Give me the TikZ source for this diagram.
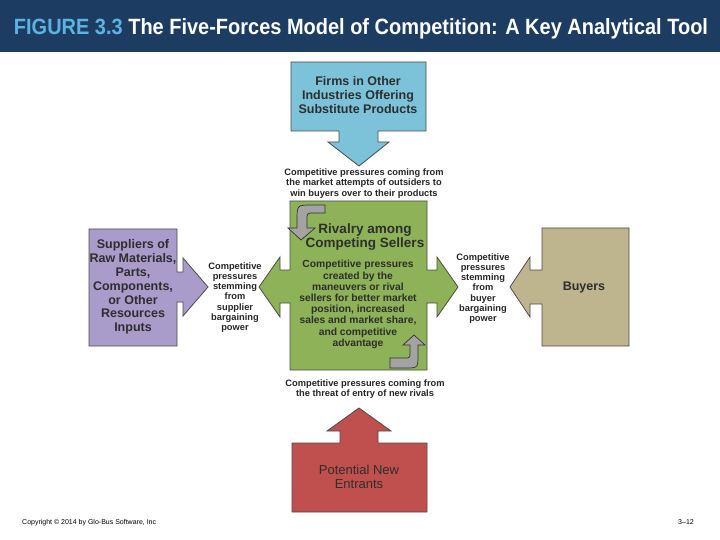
\documentclass[tikz,border=0pt]{standalone}
\usepackage{fontspec}
\setmainfont{Liberation Sans}
\usepackage{graphicx}
\definecolor{navy}{HTML}{1D3C62}
\definecolor{ttlblue}{HTML}{5CB3E2}
\definecolor{subblue}{HTML}{7CC3DA}
\definecolor{rivgreen}{HTML}{8DB257}
\definecolor{suppurple}{HTML}{A99BCA}
\definecolor{buytan}{HTML}{BEB48E}
\definecolor{entred}{HTML}{C0504D}
\definecolor{curvegray}{HTML}{A3A3A3}
\definecolor{txtgray}{HTML}{2E2E2E}
\begin{document}
\begin{tikzpicture}[x=1pt,y=-1pt,
  forceshape/.style={draw=black!70,line width=0.8pt,line join=miter},
  curvearrow/.style={draw=black!80,fill=curvegray,line width=0.7pt},
  boxtext/.style={align=center,inner sep=0pt,text=txtgray,font=\fontsize{12.5}{14}\selectfont\bfseries},
  lbl/.style={align=center,inner sep=0pt,text=black!85,font=\fontsize{9.3}{10.2}\selectfont\bfseries}]
\useasboundingbox (0,0) rectangle (720,540);
\fill[white] (0,0) rectangle (720,540);
% header
\fill[navy] (0,0) rectangle (720,52);
\node[anchor=base,inner sep=0pt,text=white] (title) at (361,35)
  {\resizebox{694pt}{16pt}{\bfseries\textcolor{ttlblue}{FIGURE 3.3} The Five-Forces Model of Competition: A Key Analytical Tool}};
% substitutes (top)
\path[forceshape,fill=subblue] (291,62) -- (426,62) -- (426,131) -- (378,131) -- (378,142) -- (389,142) -- (359,166)
  -- (328,142) -- (339,142) -- (339,131) -- (291,131) -- cycle;
\node[boxtext] (subst) at (358,95) {Firms in Other\\Industries Offering\\Substitute Products};
\node[lbl] (substlbl) at (364,183.5) {Competitive pressures coming from\\the market attempts of outsiders to\\win buyers over to their products};
% rivalry (centre)
\path[forceshape,fill=rivgreen] (290,201) -- (427,201) -- (427,270) -- (437,270) -- (437,257) -- (458,287)
  -- (437,317) -- (437,303) -- (427,303) -- (427,370) -- (290,370) -- (290,303) -- (280,303) -- (280,317)
  -- (259,287) -- (280,257) -- (280,270) -- (290,270) -- cycle;
% curved arrows
\path[curvearrow] (325,205) -- (312,205) .. controls (297,205) .. (297,220) -- (297,228) -- (288,228) -- (301,240)
  -- (315,228) -- (307,228) -- (307,220) .. controls (307,213) .. (314,213) -- (325,213) -- cycle;
\path[curvearrow] (390,358) -- (404,358) .. controls (410,358) .. (410,352) -- (410,345) -- (403,345) -- (414,335)
  -- (425,345) -- (418,345) -- (418,355) .. controls (418,368) .. (405,368) -- (390,368) -- cycle;
\node[boxtext,font=\fontsize{13.5}{14}\selectfont\bfseries] (rivalry) at (365,237.5) {Rivalry among\\Competing Sellers};
\node[boxtext,font=\fontsize{10.3}{11.2}\selectfont\bfseries] (rivtext) at (358,304.5)
  {Competitive pressures\\created by the\\maneuvers or rival\\sellers for better market\\position, increased\\sales and market share,\\and competitive\\advantage};
% suppliers (left)
\path[forceshape,fill=suppurple] (89,229) -- (177,229) -- (177,272) -- (183,272) -- (183,258) -- (208,287)
  -- (183,316) -- (183,302) -- (177,302) -- (177,346) -- (89,346) -- cycle;
\node[boxtext,font=\fontsize{12.5}{13.8}\selectfont\bfseries] (supp) at (133,287) {Suppliers of\\Raw Materials,\\Parts,\\Components,\\or Other\\Resources\\Inputs};
\node[lbl] (supplbl) at (235,297.5) {Competitive\\pressures\\stemming\\from\\supplier\\bargaining\\power};
% buyers (right)
\path[forceshape,fill=buytan] (542,228) -- (629,228) -- (629,346) -- (542,346) -- (542,304) -- (530,304)
  -- (530,317) -- (510,287) -- (530,257) -- (530,270) -- (542,270) -- cycle;
\node[boxtext] (buyers) at (584,287) {Buyers};
\node[lbl] (buylbl) at (483,288.5) {Competitive\\pressures\\stemming\\from\\buyer\\bargaining\\power};
% new entrants (bottom)
\path[forceshape,fill=entred] (292,443) -- (340,443) -- (340,431) -- (327,431) -- (359,408) -- (391,431)
  -- (378,431) -- (378,443) -- (427,443) -- (427,512) -- (292,512) -- cycle;
\node[boxtext,font=\fontsize{13}{14}\selectfont] (entr) at (359,477) {Potential New\\Entrants};
\node[lbl] (entrlbl) at (365,389) {Competitive pressures coming from\\the threat of entry of new rivals};
% footer
\node[anchor=base west,inner sep=0pt,font=\fontsize{7}{8}\selectfont] (copy) at (22,524) {Copyright © 2014 by Glo-Bus Software, Inc};
\node[anchor=base east,inner sep=0pt,font=\fontsize{7}{8}\selectfont] (pg) at (694,524) {3–12};
\end{tikzpicture}
\end{document}
